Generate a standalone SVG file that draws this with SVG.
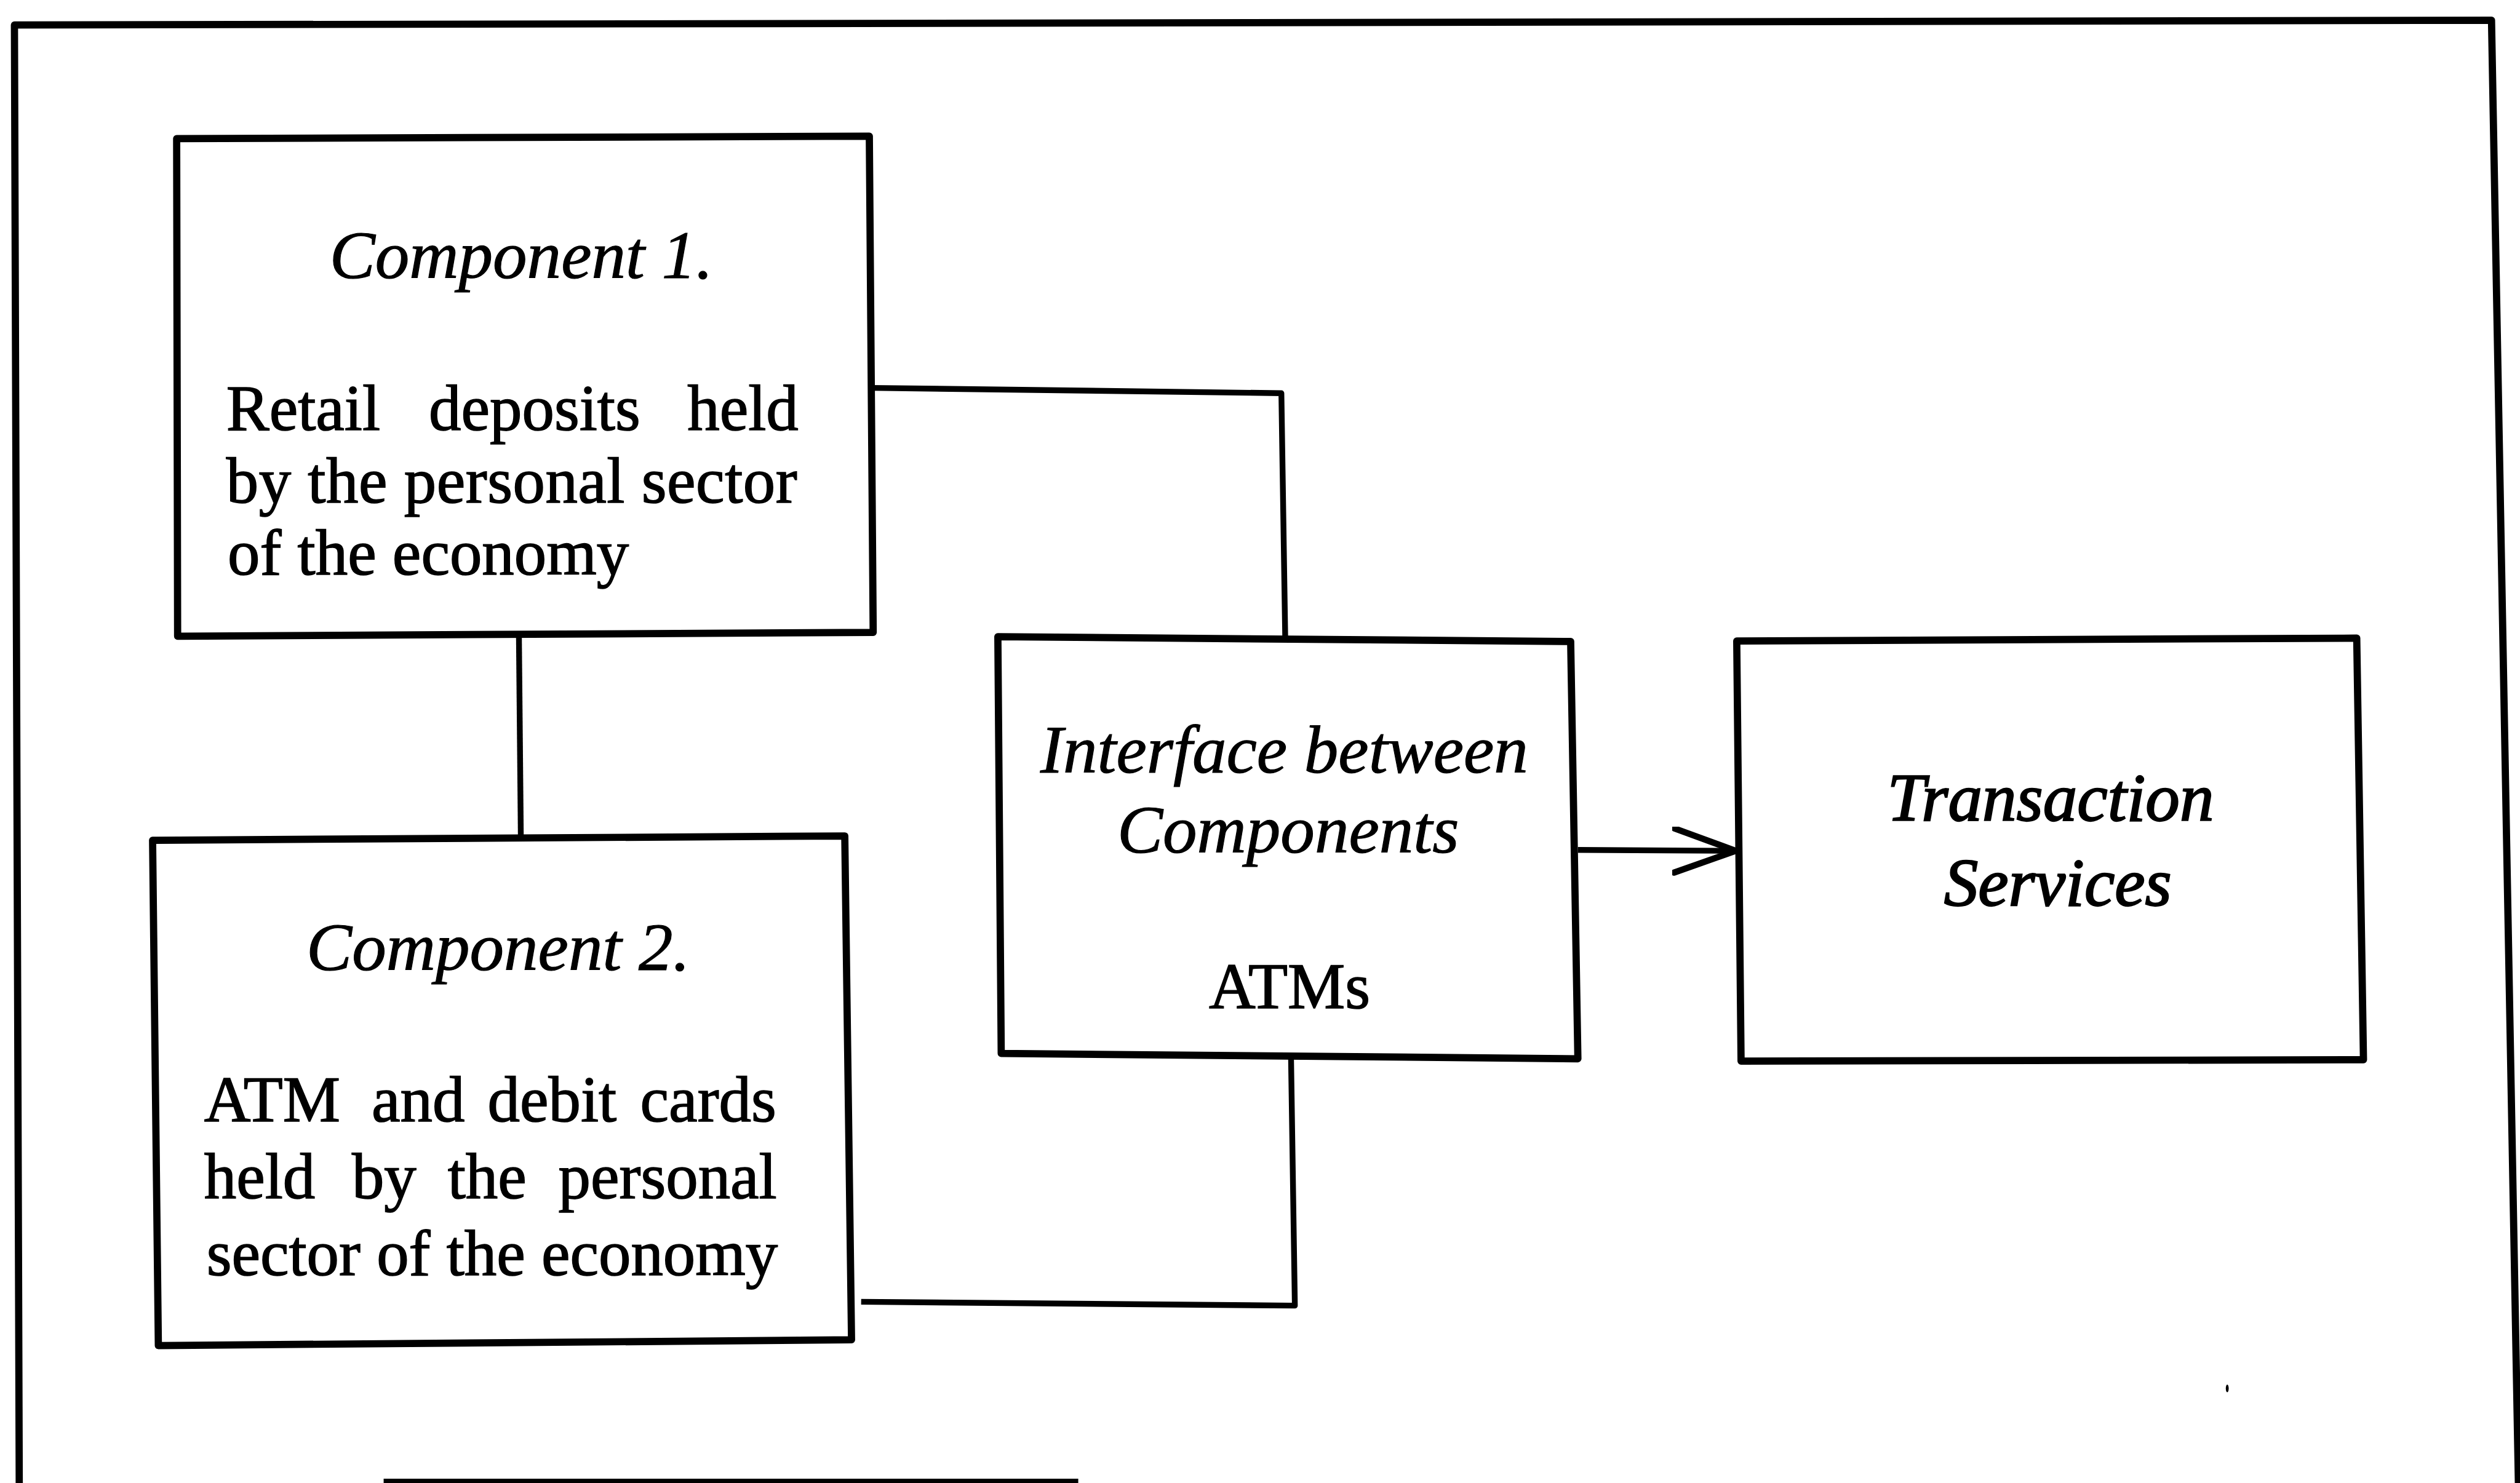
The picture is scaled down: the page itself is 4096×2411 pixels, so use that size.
<svg xmlns="http://www.w3.org/2000/svg" width="4096" height="2411" viewBox="0 0 4096 2411">
<defs>
<style>
.box{fill:#fff;stroke:#000;stroke-width:15;stroke-linejoin:round}
.con{fill:none;stroke:#000;stroke-width:12;stroke-linejoin:round}
.frame{fill:none;stroke:#000;stroke-width:15;stroke-linejoin:round}
.hd{font-family:"Liberation Serif","Times New Roman",serif;font-style:italic;font-size:142px;fill:#000;text-anchor:middle;stroke:#000;stroke-width:1.5}
.bd{font-family:"Liberation Serif","Times New Roman",serif;font-size:134px;fill:#000;stroke:#000;stroke-width:2}
.ts{stroke-width:3}
</style>
<marker id="arr" markerUnits="userSpaceOnUse" markerWidth="160" markerHeight="120" refX="132" refY="50" orient="auto">
<path d="M4,4 L132,50 L4,96" fill="none" stroke="#000" stroke-width="13" stroke-linecap="round" stroke-linejoin="round"/>
</marker>
</defs>
<rect width="4096" height="2411" fill="#fff"/>
<g transform="scale(0.7824)">
<g id="frame">
<polyline class="frame" points="40,3090 30,52 5176,42 5232,3090"/>
<line x1="797" y1="3077" x2="2240" y2="3077" stroke="#000" stroke-width="9"/>
<ellipse cx="4627" cy="2885" rx="3" ry="8" fill="#000"/>
</g>
<g id="connectors">
<polyline class="con" points="1811,806 2662,817 2670,1326"/>
<line class="con" x1="1078" y1="1316" x2="1082" y2="1740"/>
<polyline class="con" points="1789,2705 2690,2713 2682,2194"/>
<line class="con" x1="3278" y1="1766" x2="3606" y2="1768" marker-end="url(#arr)"/>
</g>
<g id="component1">
<polygon class="box" points="367,288 1806,283 1814,1314 369,1322"/>
<text class="hd" x="1083" y="578">Component 1.</text>
<text class="bd" y="893"><tspan x="470">Retail</tspan><tspan x="891">deposits</tspan><tspan x="1428">held</tspan></text>
<text class="bd" x="470" y="1044" textLength="1186" lengthAdjust="spacing">by the personal sector</text>
<text class="bd" x="473" y="1194">of the economy</text>
</g>
<g id="component2">
<polygon class="box" points="317,1746 1755,1737 1769,2784 329,2796"/>
<text class="hd" x="1035" y="2016">Component 2.</text>
<text class="bd" y="2330"><tspan x="424">ATM</tspan><tspan x="772">and</tspan><tspan x="1013">debit</tspan><tspan x="1330">cards</tspan></text>
<text class="bd" y="2490"><tspan x="424">held</tspan><tspan x="731">by</tspan><tspan x="930">the</tspan><tspan x="1160">personal</tspan></text>
<text class="bd" x="429" y="2650">sector of the economy</text>
</g>
<g id="interface">
<polygon class="box" points="2073,1323 3263,1333 3278,2200 2080,2189"/>
<text class="hd" x="2668" y="1605">Interface between</text>
<text class="hd" x="2676" y="1772">Components</text>
<text class="bd" x="2679" y="2095" text-anchor="middle">ATMs</text>
</g>
<g id="transaction">
<polygon class="box" points="3608,1332 4896,1326 4910,2202 3617,2205"/>
<text class="hd ts" x="4260" y="1705">Transaction</text>
<text class="hd ts" x="4275" y="1882">Services</text>
</g>
</g>
</svg>
